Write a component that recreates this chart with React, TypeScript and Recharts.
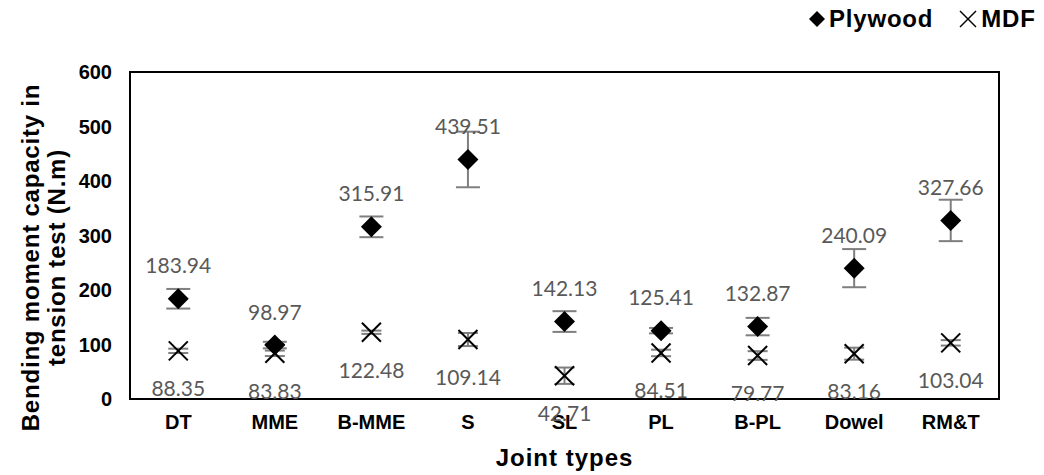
import React from 'react'
import {
  ComposedChart, Line, XAxis, YAxis, ErrorBar, LabelList, ReferenceArea
} from 'recharts'

const categories = ['DT', 'MME', 'B-MME', 'S', 'SL', 'PL', 'B-PL', 'Dowel', 'RM&T']
const plywood = [183.94, 98.97, 315.91, 439.51, 142.13, 125.41, 132.87, 240.09, 327.66]
const plywoodErr = [18, 6, 19, 51, 19, 5, 16, 35, 38]
const mdf = [88.35, 83.83, 122.48, 109.14, 42.71, 84.51, 79.77, 83.16, 103.04]
const mdfErr = [4, 5, 3, 12, 15, 6, 8, 11, 5]
const yTicks = [0, 100, 200, 300, 400, 500, 600]

const data = categories.map((name, i) => ({
  name,
  plywood: plywood[i],
  plywoodErr: plywoodErr[i],
  mdf: mdf[i],
  mdfErr: mdfErr[i],
}))

const AXIS_FONT = '"Liberation Sans", Arial, sans-serif'
const LABEL_FONT = 'Lato, "Open Sans", sans-serif'

const diamondDot = (p: any) => {
  const { cx, cy, index } = p
  if (cx == null || cy == null) return <g key={`pd-${index}`} />
  const r = 10.5
  return (
    <polygon
      key={`pd-${index}`}
      points={`${cx},${cy - r} ${cx + r},${cy} ${cx},${cy + r} ${cx - r},${cy}`}
      fill="#000"
    />
  )
}

const crossDot = (p: any) => {
  const { cx, cy, index } = p
  if (cx == null || cy == null) return <g key={`md-${index}`} />
  const r = 9.5
  return (
    <g key={`md-${index}`} stroke="#000" strokeWidth={2}>
      <line x1={cx - r} y1={cy - r} x2={cx + r} y2={cy + r} />
      <line x1={cx - r} y1={cy + r} x2={cx + r} y2={cy - r} />
    </g>
  )
}

const valueLabel = (dy: number) => (p: any) => {
  const { x, y, value, index } = p
  if (x == null || y == null) return null
  return (
    <text
      key={`lbl-${dy}-${index}`}
      x={x}
      y={y + dy}
      textAnchor="middle"
      dominantBaseline="central"
      fontFamily={LABEL_FONT}
      fontSize={21}
      fill="#595959"
    >
      {Number(value).toFixed(2)}
    </text>
  )
}

const YTitle = (p: any) => {
  const vb = p.viewBox || { x: 0, y: 0, width: 0, height: 0 }
  const cy = vb.y + vb.height / 2 + 22
  const lines = [
    { text: 'Bending moment capacity in', x: vb.x + 39 },
    { text: 'tension test (N.m)', x: vb.x + 65 },
  ]
  return (
    <g>
      {lines.map(l => (
        <text
          key={l.text}
          x={l.x}
          y={cy}
          transform={`rotate(-90, ${l.x}, ${cy})`}
          textAnchor="middle"
          fontFamily={AXIS_FONT}
          fontWeight="bold"
          fontSize={24}
          letterSpacing={0.8}
          fill="#000"
        >
          {l.text}
        </text>
      ))}
    </g>
  )
}

const XTitle = (p: any) => {
  const vb = p.viewBox || { x: 0, y: 0, width: 0, height: 0 }
  return (
    <text
      x={vb.x + vb.width / 2}
      y={vb.y + 67}
      textAnchor="middle"
      fontFamily={AXIS_FONT}
      fontWeight="bold"
      fontSize={24}
      letterSpacing={1}
      fill="#000"
    >
      Joint types
    </text>
  )
}

const LegendBox = () => (
  <div
    style={{
      position: 'absolute', left: 806, top: 5, display: 'flex', alignItems: 'center',
      fontFamily: AXIS_FONT, fontWeight: 'bold', fontSize: 24, letterSpacing: 0.8, color: '#000',
      whiteSpace: 'nowrap',
    }}
  >
    <svg width={22} height={22} style={{ marginRight: 1 }}>
      <polygon points="11,3 19,11 11,19 3,11" fill="#000" />
    </svg>
    <span>Plywood</span>
    <svg width={22} height={22} style={{ marginLeft: 24, marginRight: 2 }}>
      <g stroke="#000" strokeWidth={1.5}>
        <line x1={3} y1={3} x2={19} y2={19} />
        <line x1={3} y1={19} x2={19} y2={3} />
      </g>
    </svg>
    <span>MDF</span>
  </div>
)

export default function App() {
  return (
    <div style={{ position: 'absolute', left: 0, top: 0, width: 1044, height: 475, background: '#fff' }}>
      <ComposedChart
        width={1044}
        height={475}
        data={data}
        margin={{ top: 72, right: 45, bottom: 0, left: 0 }}
      >
        <XAxis
          dataKey="name"
          type="category"
          scale="band"
          height={76}
          axisLine={{ stroke: '#000', strokeWidth: 2 }}
          tickLine={false}
          tickSize={0}
          tickMargin={16}
          interval={0}
          tick={{ fontFamily: AXIS_FONT, fontWeight: 'bold', fontSize: 20, fill: '#000' }}
          label={<XTitle />}
        />
        <YAxis
          type="number"
          domain={[0, 600]}
          ticks={yTicks}
          width={130}
          axisLine={{ stroke: '#000', strokeWidth: 2 }}
          tickLine={false}
          tickSize={0}
          tickMargin={18}
          tick={{ fontFamily: AXIS_FONT, fontWeight: 'bold', fontSize: 20, fill: '#000' }}
          label={<YTitle />}
        />
        <ReferenceArea y1={0} y2={600} fill="none" stroke="#000" strokeWidth={2} ifOverflow="visible" />
        <Line
          dataKey="plywood"
          stroke="none"
          dot={diamondDot}
          activeDot={false}
          isAnimationActive={false}
        >
          <ErrorBar dataKey="plywoodErr" direction="y" width={12} stroke="#7f7f7f" strokeWidth={2} />
          <LabelList dataKey="plywood" content={valueLabel(-34)} />
        </Line>
        <Line
          dataKey="mdf"
          stroke="none"
          dot={crossDot}
          activeDot={false}
          isAnimationActive={false}
        >
          <ErrorBar dataKey="mdfErr" direction="y" width={10} stroke="#7f7f7f" strokeWidth={2} />
          <LabelList dataKey="mdf" content={valueLabel(37)} />
        </Line>
      </ComposedChart>
      <LegendBox />
    </div>
  )
}
